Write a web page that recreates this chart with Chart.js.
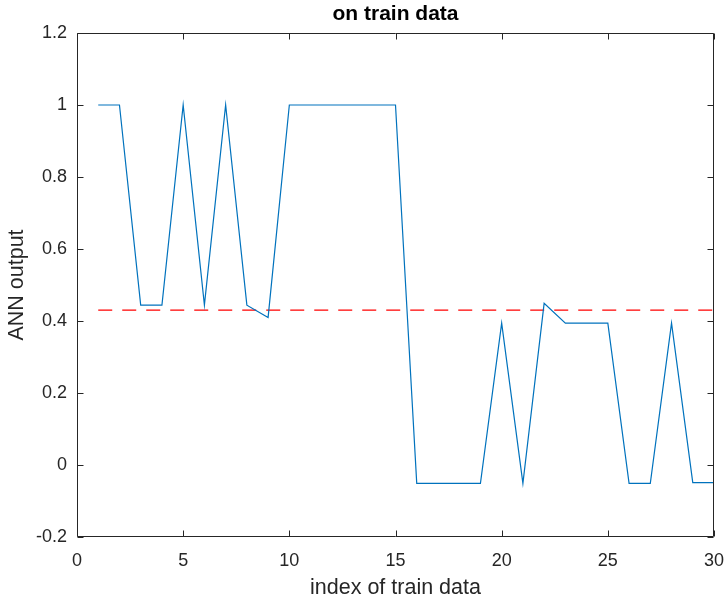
<!DOCTYPE html>
<html>
<head>
<meta charset="utf-8">
<script src="https://cdn.jsdelivr.net/npm/chart.js@4.4.1/dist/chart.umd.min.js"></script>
<style>
  html,body{margin:0;padding:0;background:#fff;}
  #wrap{width:726px;height:601px;position:relative;}
</style>
</head>
<body>
<div id="wrap"><canvas id="ch-train"></canvas></div>
<script>
// data
const trainIdx=[1,2,3,4,5,6,7,8,9,10,11,12,13,14,15,16,17,18,19,20,21,22,23,24,25,26,27,28,29,30];
const annOut=[1,1,0.444,0.444,1,0.444,1,0.444,0.41,1,1,1,1,1,1,
  -0.051,-0.051,-0.051,-0.051,0.394,-0.051,0.449,0.394,0.394,0.394,-0.051,-0.051,0.394,-0.049,-0.049];
const threshX=[1,30];
const threshY=[0.43,0.43];
const xTicks=[0,5,10,15,20,25,30];
const yTicks=[-0.2,0,0.2,0.4,0.6,0.8,1,1.2];

const AX='#262626';
const fontFam='"Liberation Sans", Arial, Helvetica, sans-serif';

// box + inward ticks, matlab style
const boxPlugin={
  id:'box',
  afterDraw(chart){
    const {ctx,chartArea:a,scales}=chart;
    ctx.save();
    ctx.strokeStyle=AX; ctx.lineWidth=1;
    const L=Math.round(a.left)+0.5, R=Math.round(a.right)-0.5, T=Math.round(a.top)+0.5, B=Math.round(a.bottom)-0.5;
    ctx.beginPath();
    ctx.rect(L,T,R-L,B-T);
    xTicks.forEach(v=>{
      const x=Math.round(scales.x.getPixelForValue(v))+0.5;
      ctx.moveTo(x,B); ctx.lineTo(x,B-6);
      ctx.moveTo(x,T); ctx.lineTo(x,T+6);
    });
    yTicks.forEach(v=>{
      const y=Math.round(scales.y.getPixelForValue(v))+0.5;
      ctx.moveTo(L,y); ctx.lineTo(L+6,y);
      ctx.moveTo(R,y); ctx.lineTo(R-6,y);
    });
    ctx.stroke();
    ctx.restore();
  }
};

new Chart(document.getElementById('ch-train'),{
  type:'line',
  data:{
    datasets:[
      {
        label:'ANN output',
        data:trainIdx.map((x,i)=>({x,y:annOut[i]})),
        borderColor:'#0072BD',borderWidth:1.2,pointRadius:0,tension:0,fill:false
      },
      {
        label:'threshold',
        data:threshX.map((x,i)=>({x,y:threshY[i]})),
        borderColor:'#FF0000',borderWidth:1.2,borderDash:[14,10],pointRadius:0,fill:false
      }
    ]
  },
  options:{
    responsive:true,maintainAspectRatio:false,animation:false,
    layout:{padding:0},
    plugins:{
      legend:{display:false},tooltip:{enabled:false},
      title:{display:true,fullSize:false,text:'on train data',color:'#000',
        font:{family:fontFam,size:21,weight:'bold'},padding:{top:2,bottom:5.8}}
    },
    scales:{
      x:{
        type:'linear',min:0,max:30,
        afterFit:s=>{s.height=64;s.paddingLeft=0;s.paddingRight=12;},
        afterBuildTicks:s=>{s.ticks=xTicks.map(v=>({value:v}));},
        grid:{drawOnChartArea:false,drawTicks:false},
        border:{display:false},
        ticks:{color:AX,padding:13,maxRotation:0,font:{family:fontFam,size:18}},
        title:{display:true,text:'index of train data',color:AX,
          font:{family:fontFam,size:21.5},padding:{top:0,bottom:0}}
      },
      y:{
        type:'linear',min:-0.2,max:1.2,
        afterFit:s=>{s.width=77;},
        afterBuildTicks:s=>{s.ticks=yTicks.map(v=>({value:v}));},
        grid:{drawOnChartArea:false,drawTicks:false},
        border:{display:false},
        ticks:{color:AX,padding:10,font:{family:fontFam,size:18},
          callback:v=>String(Number(v.toFixed(1)))},
        title:{display:true,text:'ANN output',color:AX,
          font:{family:fontFam,size:21.5},padding:{top:4,bottom:0}}
      }
    }
  },
  plugins:[boxPlugin]
});
</script>
</body>
</html>
